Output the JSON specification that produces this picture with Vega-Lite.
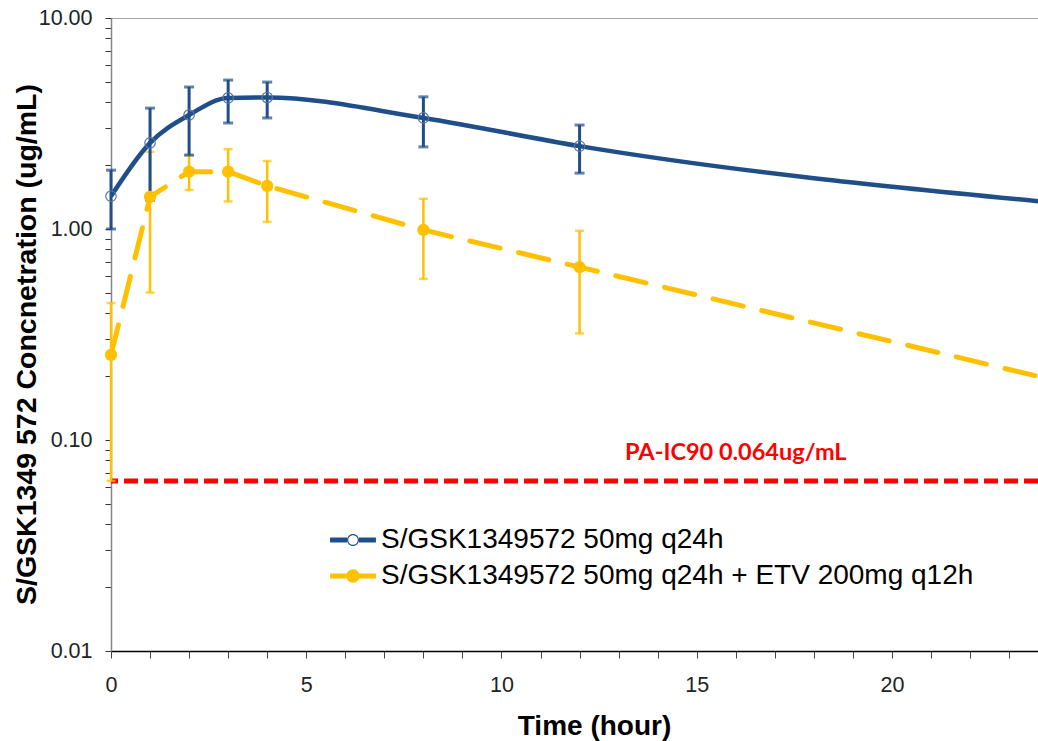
{
  "$schema": "https://vega.github.io/schema/vega-lite/v6.json",
  "width": 927,
  "height": 633,
  "autosize": {"type": "none"},
  "padding": {"left": 111, "top": 18, "right": 0, "bottom": 90},
  "background": "white",
  "config": {"view": {"stroke": "#a6a6a6", "strokeWidth": 1}, "font": "Liberation Sans"},
  "datasets": {
    "pk": [
      {"series": "S/GSK1349572 50mg q24h", "t": 0, "mean": 1.43, "lo": 1.0, "hi": 1.9},
      {"series": "S/GSK1349572 50mg q24h", "t": 1, "mean": 2.56, "lo": 1.37, "hi": 3.74},
      {"series": "S/GSK1349572 50mg q24h", "t": 2, "mean": 3.47, "lo": 2.24, "hi": 4.71},
      {"series": "S/GSK1349572 50mg q24h", "t": 3, "mean": 4.18, "lo": 3.18, "hi": 5.08},
      {"series": "S/GSK1349572 50mg q24h", "t": 4, "mean": 4.2, "lo": 3.36, "hi": 4.97},
      {"series": "S/GSK1349572 50mg q24h", "t": 8, "mean": 3.36, "lo": 2.45, "hi": 4.23},
      {"series": "S/GSK1349572 50mg q24h", "t": 12, "mean": 2.47, "lo": 1.84, "hi": 3.11},
      {"series": "S/GSK1349572 50mg q24h", "t": 24, "mean": 1.34, "lo": null, "hi": null},
      {"series": "S/GSK1349572 50mg q24h + ETV 200mg q12h", "t": 0, "mean": 0.253, "lo": 0.064, "hi": 0.446},
      {"series": "S/GSK1349572 50mg q24h + ETV 200mg q12h", "t": 1, "mean": 1.42, "lo": 0.5, "hi": 2.32},
      {"series": "S/GSK1349572 50mg q24h + ETV 200mg q12h", "t": 2, "mean": 1.87, "lo": 1.53, "hi": 2.24},
      {"series": "S/GSK1349572 50mg q24h + ETV 200mg q12h", "t": 3, "mean": 1.87, "lo": 1.35, "hi": 2.39},
      {"series": "S/GSK1349572 50mg q24h + ETV 200mg q12h", "t": 4, "mean": 1.6, "lo": 1.08, "hi": 2.1},
      {"series": "S/GSK1349572 50mg q24h + ETV 200mg q12h", "t": 8, "mean": 0.99, "lo": 0.58, "hi": 1.39},
      {"series": "S/GSK1349572 50mg q24h + ETV 200mg q12h", "t": 12, "mean": 0.66, "lo": 0.32, "hi": 0.98},
      {"series": "S/GSK1349572 50mg q24h + ETV 200mg q12h", "t": 24, "mean": 0.195, "lo": null, "hi": null}
    ],
    "ann": [
      {"t": 16, "v": 0.0804, "label": "PA-IC90 0.064ug/mL"}
    ],
    "ref": [
      {"v": 0.064}
    ]
  },
  "layer": [
    {
      "data": {"name": "pk"},
      "transform": [{"filter": "false"}],
      "mark": {"type": "point", "filled": true, "opacity": 1},
      "encoding": {
        "x": {
          "field": "t", "type": "quantitative",
          "scale": {"domain": [0, 23.74], "nice": false, "zero": false},
          "axis": {
            "values": [0,1,2,3,4,5,6,7,8,9,10,11,12,13,14,15,16,17,18,19,20,21,22,23],
            "labelExpr": "datum.value % 5 === 0 ? format(datum.value, 'd') : ''",
            "grid": false,
            "tickSize": 7, "tickColor": "#444", "tickWidth": 1,
            "domainColor": "#000", "domainWidth": 1.5,
            "labelFont": "Liberation Sans", "labelFontSize": 21.5, "labelColor": "#222",
            "labelPadding": 16, "labelFlush": false, "labelOverlap": false,
            "title": "Time (hour)",
            "titleFont": "Liberation Sans", "titleFontSize": 28, "titleFontWeight": "bold", "titleColor": "#000",
            "titleX": 483, "titleY": 83, "titleBaseline": "alphabetic", "titleAlign": "center"
          }
        },
        "y": {
          "field": "mean", "type": "quantitative",
          "scale": {"type": "log", "domain": [0.01, 10], "nice": false},
          "axis": {
            "values": [0.01,0.02,0.03,0.04,0.05,0.06,0.07,0.08,0.09,0.1,0.2,0.3,0.4,0.5,0.6,0.7,0.8,0.9,1,2,3,4,5,6,7,8,9,10],
            "labelExpr": "(datum.value === 0.01 || datum.value === 0.1 || datum.value === 1 || datum.value === 10) ? format(datum.value, '.2f') : ''",
            "grid": false,
            "tickSize": 6, "tickColor": "#333", "tickWidth": 1,
            "domainColor": "#868686", "domainWidth": 1.5,
            "labelFont": "Liberation Sans", "labelFontSize": 21.5, "labelColor": "#222",
            "labelPadding": 13, "labelOverlap": false, "labelFlush": false,
            "title": "S/GSK1349 572 Concnetration (ug/mL)",
            "titleFont": "Liberation Sans", "titleFontSize": 28.5, "titleFontWeight": "bold", "titleColor": "#000",
            "titleX": -76, "titleY": 326, "titleAngle": -90, "titleBaseline": "alphabetic", "titleAlign": "center"
          }
        },
        "color": {
          "field": "series", "type": "nominal",
          "scale": {
            "domain": ["S/GSK1349572 50mg q24h", "S/GSK1349572 50mg q24h + ETV 200mg q12h"],
            "range": ["#1F4E89", "#FFC000"]
          },
          "legend": {
            "orient": "none", "legendX": 227, "legendY": 507,
            "title": null, "padding": 0,
            "labelFont": "Liberation Sans", "labelFontSize": 28, "labelColor": "#000",
            "labelLimit": 1000, "labelOffset": 13,
            "symbolSize": 900, "symbolStrokeWidth": 0, "symbolOpacity": 1, "rowPadding": 7
          }
        },
        "shape": {
          "field": "series", "type": "nominal",
          "scale": {
            "domain": ["S/GSK1349572 50mg q24h", "S/GSK1349572 50mg q24h + ETV 200mg q12h"],
            "range": [
              "M-1.53,-0.16L-0.4,-0.16L-0.4,0.16L-1.53,0.16Z M0.4,-0.16L1.53,-0.16L1.53,0.16L0.4,0.16Z M0.4,0A0.4,0.4 0 1,1 -0.4,0A0.4,0.4 0 1,1 0.4,0Z M0.32,0A0.32,0.32 0 1,0 -0.32,0A0.32,0.32 0 1,0 0.32,0Z",
              "M-1.53,-0.17L1.53,-0.17L1.53,0.17L-1.53,0.17Z M0.45,0A0.45,0.45 0 1,1 -0.45,0A0.45,0.45 0 1,1 0.45,0Z"
            ]
          },
          "legend": {
            "orient": "none", "legendX": 227, "legendY": 507,
            "title": null, "padding": 0,
            "labelFont": "Liberation Sans", "labelFontSize": 28, "labelColor": "#000",
            "labelLimit": 1000, "labelOffset": 13,
            "symbolSize": 900, "symbolStrokeWidth": 0, "symbolOpacity": 1, "rowPadding": 7
          }
        }
      }
    },
    {
      "data": {"name": "ref"},
      "mark": {"type": "rule", "color": "#FF0000", "strokeWidth": 5, "strokeDash": [14, 6]},
      "encoding": {
        "y": {"field": "v", "type": "quantitative", "scale": {"type": "log", "domain": [0.01, 10], "nice": false}, "title": "S/GSK1349 572 Concnetration (ug/mL)"}
      }
    },
    {
      "data": {"name": "ann"},
      "mark": {"type": "text", "color": "#FF0000", "font": "Lato", "fontWeight": "bold", "fontSize": 23.5, "align": "center", "baseline": "alphabetic"},
      "encoding": {
        "x": {"field": "t", "type": "quantitative", "scale": {"domain": [0, 23.74], "nice": false, "zero": false}, "title": "Time (hour)"},
        "y": {"field": "v", "type": "quantitative", "scale": {"type": "log", "domain": [0.01, 10], "nice": false}, "title": "S/GSK1349 572 Concnetration (ug/mL)"},
        "text": {"field": "label"}
      }
    },
    {
      "data": {"name": "pk"},
      "transform": [{"filter": "datum.lo != null && datum.series !== 'S/GSK1349572 50mg q24h'"}],
      "mark": {"type": "errorbar", "color": "#FFC000", "thickness": 2.5, "ticks": {"size": 9}},
      "encoding": {
        "x": {"field": "t", "type": "quantitative", "scale": {"domain": [0, 23.74], "nice": false, "zero": false}, "title": "Time (hour)"},
        "y": {"field": "lo", "type": "quantitative", "scale": {"type": "log", "domain": [0.01, 10], "nice": false}, "title": "S/GSK1349 572 Concnetration (ug/mL)"},
        "y2": {"field": "hi"}
      }
    },
    {
      "data": {"name": "pk"},
      "transform": [{"filter": "datum.lo != null && datum.series === 'S/GSK1349572 50mg q24h'"}],
      "mark": {"type": "errorbar", "color": "#1F4E89", "thickness": 3, "ticks": {"size": 10}},
      "encoding": {
        "x": {"field": "t", "type": "quantitative", "scale": {"domain": [0, 23.74], "nice": false, "zero": false}, "title": "Time (hour)"},
        "y": {"field": "lo", "type": "quantitative", "scale": {"type": "log", "domain": [0.01, 10], "nice": false}, "title": "S/GSK1349 572 Concnetration (ug/mL)"},
        "y2": {"field": "hi"}
      }
    },
    {
      "data": {"name": "pk"},
      "transform": [{"filter": "datum.series !== 'S/GSK1349572 50mg q24h'"}],
      "mark": {"type": "line", "color": "#FFC000", "strokeWidth": 5, "strokeDash": [31, 19], "strokeCap": "round", "clip": true},
      "encoding": {
        "x": {"field": "t", "type": "quantitative", "scale": {"domain": [0, 23.74], "nice": false, "zero": false}, "title": "Time (hour)"},
        "y": {"field": "mean", "type": "quantitative", "scale": {"type": "log", "domain": [0.01, 10], "nice": false}, "title": "S/GSK1349 572 Concnetration (ug/mL)"}
      }
    },
    {
      "data": {"name": "pk"},
      "transform": [{"filter": "datum.series === 'S/GSK1349572 50mg q24h'"}],
      "mark": {"type": "line", "color": "#1F4E89", "strokeWidth": 4.5, "interpolate": "monotone", "clip": true},
      "encoding": {
        "x": {"field": "t", "type": "quantitative", "scale": {"domain": [0, 23.74], "nice": false, "zero": false}, "title": "Time (hour)"},
        "y": {"field": "mean", "type": "quantitative", "scale": {"type": "log", "domain": [0.01, 10], "nice": false}, "title": "S/GSK1349 572 Concnetration (ug/mL)"}
      }
    },
    {
      "data": {"name": "pk"},
      "transform": [{"filter": "datum.lo != null && datum.series !== 'S/GSK1349572 50mg q24h'"}],
      "mark": {"type": "point", "shape": "circle", "filled": true, "color": "#FFC000", "size": 150, "opacity": 1},
      "encoding": {
        "x": {"field": "t", "type": "quantitative", "scale": {"domain": [0, 23.74], "nice": false, "zero": false}, "title": "Time (hour)"},
        "y": {"field": "mean", "type": "quantitative", "scale": {"type": "log", "domain": [0.01, 10], "nice": false}, "title": "S/GSK1349 572 Concnetration (ug/mL)"}
      }
    },
    {
      "data": {"name": "pk"},
      "transform": [{"filter": "datum.lo != null && datum.series === 'S/GSK1349572 50mg q24h'"}],
      "mark": {"type": "point", "shape": "circle", "filled": false, "stroke": "#5576a3", "strokeWidth": 1.2, "size": 110, "opacity": 1},
      "encoding": {
        "x": {"field": "t", "type": "quantitative", "scale": {"domain": [0, 23.74], "nice": false, "zero": false}, "title": "Time (hour)"},
        "y": {"field": "mean", "type": "quantitative", "scale": {"type": "log", "domain": [0.01, 10], "nice": false}, "title": "S/GSK1349 572 Concnetration (ug/mL)"}
      }
    }
  ]
}
